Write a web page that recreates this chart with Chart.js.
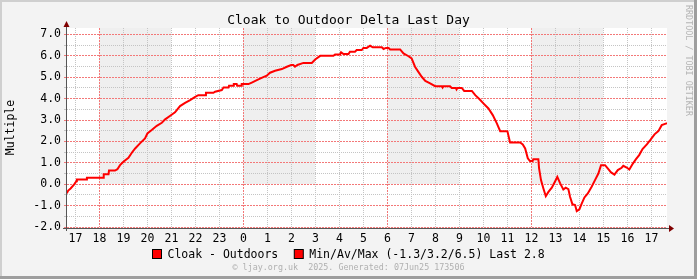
<!DOCTYPE html>
<html>
<head>
<meta charset="utf-8">
<script src="https://cdn.jsdelivr.net/npm/chart.js@4.4.0/dist/chart.umd.min.js"></script>
<style>
  html, body { margin: 0; padding: 0; background: #f3f3f3; }
  canvas { display: block; }
</style>
</head>
<body>
<canvas id="deltaChart" width="697" height="279"></canvas>
<script>
// time in hours relative to midnight (negative = yesterday evening)
const hours = [
  -7.36, -7.30, -7.20, -7.05, -6.96, -6.94, -6.55, -6.52, -5.85, -5.82,
  -5.62, -5.60, -5.35, -5.25, -5.14, -5.00, -4.79, -4.65, -4.51, -4.31,
  -4.10, -4.00, -3.82, -3.61, -3.40, -3.26, -3.05, -2.85, -2.64, -2.43,
  -2.22, -2.01, -1.88, -1.60, -1.56, -1.25, -1.18, -0.90, -0.83, -0.62,
  -0.60, -0.42, -0.40, -0.28, -0.26, -0.09, -0.07, 0.21, 0.35, 0.56,
  0.76, 0.97, 1.11, 1.32, 1.60, 1.81, 1.99, 2.08, 2.15, 2.25,
  2.50, 2.85, 2.99, 3.20, 3.75, 3.82, 4.03, 4.07, 4.17, 4.38,
  4.44, 4.65, 4.72, 4.93, 5.00, 5.14, 5.28, 5.39, 5.77, 5.84,
  5.94, 6.05, 6.11, 6.53, 6.67, 6.88, 7.01, 7.15, 7.29, 7.43,
  7.58, 7.78, 7.99, 8.27, 8.30, 8.33, 8.61, 8.68, 8.85, 8.88,
  8.92, 9.10, 9.20, 9.52, 9.66, 9.84, 10.00, 10.21, 10.39, 10.56,
  10.70, 11.00, 11.11, 11.53, 11.64, 11.74, 11.85, 11.94, 12.05, 12.08,
  12.29, 12.32, 12.40, 12.50, 12.60, 12.71, 12.85, 12.99, 13.08, 13.20,
  13.33, 13.43, 13.54, 13.61, 13.71, 13.82, 13.89, 14.00, 14.10, 14.21,
  14.35, 14.51, 14.65, 14.79, 14.90, 15.07, 15.18, 15.32, 15.46, 15.60,
  15.76, 15.83, 15.97, 16.08, 16.21, 16.35, 16.49, 16.63, 16.81, 16.95,
  17.13, 17.29, 17.43, 17.57, 17.65
];
// cloak minus outdoor delta
const delta = [
  -0.43, -0.30, -0.20, -0.01, 0.14, 0.22, 0.22, 0.30, 0.30, 0.47,
  0.47, 0.64, 0.64, 0.70, 0.89, 1.05, 1.23, 1.47, 1.67, 1.91,
  2.14, 2.37, 2.53, 2.73, 2.87, 3.03, 3.20, 3.36, 3.65, 3.80,
  3.93, 4.08, 4.16, 4.16, 4.27, 4.27, 4.32, 4.40, 4.52, 4.52,
  4.60, 4.60, 4.68, 4.68, 4.60, 4.60, 4.68, 4.68, 4.75, 4.86,
  4.97, 5.07, 5.21, 5.30, 5.38, 5.49, 5.57, 5.57, 5.49, 5.57,
  5.67, 5.67, 5.83, 6.00, 6.00, 6.06, 6.06, 6.16, 6.08, 6.08,
  6.19, 6.19, 6.27, 6.27, 6.37, 6.37, 6.47, 6.40, 6.40, 6.32,
  6.37, 6.37, 6.30, 6.30, 6.11, 5.98, 5.88, 5.49, 5.25, 5.02,
  4.83, 4.71, 4.58, 4.58, 4.52, 4.58, 4.58, 4.50, 4.50, 4.43,
  4.50, 4.50, 4.36, 4.36, 4.16, 3.97, 3.78, 3.54, 3.23, 2.84,
  2.48, 2.48, 1.95, 1.95, 1.86, 1.67, 1.21, 1.08, 1.08, 1.17,
  1.17, 0.74, 0.19, -0.20, -0.56, -0.36, -0.16, 0.14, 0.34, 0.04,
  -0.25, -0.16, -0.23, -0.59, -0.94, -0.97, -1.26, -1.17, -0.90, -0.62,
  -0.43, -0.12, 0.19, 0.50, 0.89, 0.89, 0.74, 0.55, 0.45, 0.66,
  0.77, 0.86, 0.78, 0.69, 0.93, 1.16, 1.36, 1.64, 1.86, 2.06,
  2.33, 2.48, 2.76, 2.82, 2.85
];

const hourTicks = [-7, -6, -5, -4, -3, -2, -1, 0, 1, 2, 3, 4, 5, 6, 7, 8, 9, 10, 11, 12, 13, 14, 15, 16, 17];
const hourLabels = ['17', '18', '19', '20', '21', '22', '23', '0', '1', '2', '3', '4', '5', '6', '7', '8', '9', '10', '11', '12', '13', '14', '15', '16', '17'];
const majorHours = [-6, 0, 6, 12]; // red grid every 6 hours
const valueTicks = [-2.0, -1.5, -1.0, -0.5, 0.0, 0.5, 1.0, 1.5, 2.0, 2.5, 3.0, 3.5, 4.0, 4.5, 5.0, 5.5, 6.0, 6.5, 7.0];
const shadeBands = [[-6, -3], [0, 3], [6, 9], [12, 15]]; // 3-hour grey blocks

const titleText = 'Cloak to Outdoor Delta Last Day';
const yTitle = 'Multiple';
const legendLabels = ['Cloak - Outdoors', 'Min/Av/Max (-1.3/3.2/6.5) Last 2.8'];
const footerText = '\u00a9 ljay.org.uk  2025. Generated: 07Jun25 173506';
const sideText = 'RRDTOOL / TOBI OETIKER';

const MONO = '"DejaVu Sans Mono", monospace';
const MGRID = '#f37878';
const GRID = '#c4c4c4';

// rrdtool style background, frame, axes, arrows and texts
const rrdLook = {
    id: 'rrdLook',
    beforeDraw(chart) {
        const { ctx, chartArea: a, scales: { x, y } } = chart;
        const W = chart.width, H = chart.height;
        ctx.save();
        ctx.fillStyle = '#f3f3f3';
        ctx.fillRect(0, 0, W, H);
        ctx.fillStyle = '#cfcfcf';
        ctx.fillRect(0, 0, W, 2);
        ctx.fillRect(0, 0, 2, H);
        ctx.fillStyle = '#9e9e9e';
        ctx.fillRect(W - 3, 0, 3, H);
        ctx.fillRect(0, H - 3, W, 3);
        ctx.fillStyle = '#ffffff';
        ctx.fillRect(a.left, a.top, a.right - a.left, a.bottom - a.top);
        ctx.fillStyle = '#efefef';
        const y0 = y.getPixelForValue(0);
        shadeBands.forEach(([from, to]) => {
            const x1 = Math.round(x.getPixelForValue(from));
            const x2 = Math.round(x.getPixelForValue(to));
            ctx.fillRect(x1, a.top, x2 - x1, Math.round(y0) - a.top);
        });
        ctx.restore();
    },
    afterDraw(chart) {
        const { ctx, chartArea: a } = chart;
        const W = chart.width;
        ctx.save();

        // axes
        ctx.strokeStyle = '#555';
        ctx.lineWidth = 1;
        ctx.beginPath();
        ctx.moveTo(a.left - 0.5, a.top - 1);
        ctx.lineTo(a.left - 0.5, a.bottom + 4);
        ctx.moveTo(a.left - 4, a.bottom + 1.5);
        ctx.lineTo(a.right + 3, a.bottom + 1.5);
        ctx.stroke();

        // arrows
        ctx.fillStyle = '#800000';
        ctx.beginPath();
        ctx.moveTo(a.left - 3.5, a.top - 1);
        ctx.lineTo(a.left + 2.5, a.top - 1);
        ctx.lineTo(a.left - 0.5, a.top - 7);
        ctx.closePath();
        ctx.fill();
        ctx.beginPath();
        ctx.moveTo(a.right + 2, a.bottom - 2);
        ctx.lineTo(a.right + 2, a.bottom + 5);
        ctx.lineTo(a.right + 7, a.bottom + 1.5);
        ctx.closePath();
        ctx.fill();

        // title
        ctx.fillStyle = '#000';
        ctx.font = '13px ' + MONO;
        ctx.textAlign = 'center';
        ctx.textBaseline = 'alphabetic';
        ctx.fillText(titleText, W / 2, 24);

        // y axis title
        ctx.save();
        ctx.font = '11.5px ' + MONO;
        ctx.translate(11, (a.top + a.bottom) / 2);
        ctx.rotate(-Math.PI / 2);
        ctx.textBaseline = 'middle';
        ctx.fillText(yTitle, 0, 0);
        ctx.restore();

        // legend
        ctx.font = '11.5px ' + MONO;
        ctx.textAlign = 'left';
        const box = 9, gap = 6, sep = 16;
        const w1 = ctx.measureText(legendLabels[0]).width;
        const w2 = ctx.measureText(legendLabels[1]).width;
        const total = box + gap + w1 + sep + box + gap + w2;
        let lx = Math.round(W / 2 - total / 2) + 0.5;
        const ly = 249.5;
        [w1, w2].forEach((w, i) => {
            ctx.fillStyle = '#ff0000';
            ctx.fillRect(lx, ly, box, box);
            ctx.strokeStyle = '#000';
            ctx.strokeRect(lx, ly, box, box);
            ctx.fillStyle = '#000';
            ctx.fillText(legendLabels[i], lx + box + gap, 258);
            lx += box + gap + w + sep;
        });

        // footer
        ctx.font = '8.4px ' + MONO;
        ctx.fillStyle = '#b0b0b0';
        ctx.textAlign = 'center';
        ctx.fillText(footerText, W / 2, 270);

        // side watermark
        ctx.save();
        ctx.translate(688, 5);
        ctx.rotate(Math.PI / 2);
        ctx.textAlign = 'left';
        ctx.textBaseline = 'middle';
        ctx.fillStyle = '#b4b4b4';
        ctx.fillText(sideText, 0, 0);
        ctx.restore();

        ctx.restore();
    }
};

function isMajorHour(c) {
    return !!c.tick && majorHours.includes(Math.round(c.tick.value));
}

function isMajorValue(c) {
    return !!c.tick && Number.isInteger(c.tick.value);
}

const ctx = document.getElementById('deltaChart').getContext('2d');
new Chart(ctx, {
    type: 'line',
    data: {
        datasets: [{
            label: legendLabels[0],
            data: hours.map((h, i) => ({ x: h, y: delta[i] })),
            borderColor: '#ff0000',
            borderWidth: 2,
            pointRadius: 0,
            tension: 0,
            fill: false
        }]
    },
    options: {
        responsive: false,
        animation: false,
        devicePixelRatio: 1,
        layout: { padding: { top: 28, right: 30, left: 0, bottom: 0 } },
        plugins: { legend: { display: false }, tooltip: { enabled: false } },
        scales: {
            x: {
                type: 'linear',
                min: -7.35,
                max: 17.65,
                afterBuildTicks: s => { s.ticks = hourTicks.map(v => ({ value: v })); },
                afterFit: s => { s.height = 52; },
                ticks: {
                    callback: v => hourLabels[hourTicks.indexOf(v)],
                    font: { family: MONO, size: 11.5 },
                    color: '#000',
                    padding: 2,
                    maxRotation: 0,
                    autoSkip: false
                },
                grid: {
                    color: c => isMajorHour(c) ? MGRID : GRID,
                    lineWidth: 1, drawTicks: true, tickLength: 3, tickColor: 'rgba(0,0,0,0)'
                },
                border: { display: false, dash: c => isMajorHour(c) ? [2, 1] : [1, 1] }
            },
            y: {
                type: 'linear',
                min: -2,
                max: 7.3,
                afterBuildTicks: s => { s.ticks = valueTicks.map(v => ({ value: v })); },
                afterFit: s => { s.width = 67; },
                ticks: {
                    callback: v => Number.isInteger(v) ? v.toFixed(1) : '',
                    font: { family: MONO, size: 11.5 },
                    color: '#000',
                    padding: 3,
                    autoSkip: false
                },
                grid: {
                    color: c => isMajorValue(c) ? MGRID : GRID,
                    lineWidth: 1, drawTicks: true, tickLength: 3,
                    tickColor: c => isMajorValue(c) ? MGRID : GRID
                },
                border: { display: false, dash: c => isMajorValue(c) ? [2, 1] : [1, 1] }
            }
        }
    },
    plugins: [rrdLook]
});
</script>
</body>
</html>
